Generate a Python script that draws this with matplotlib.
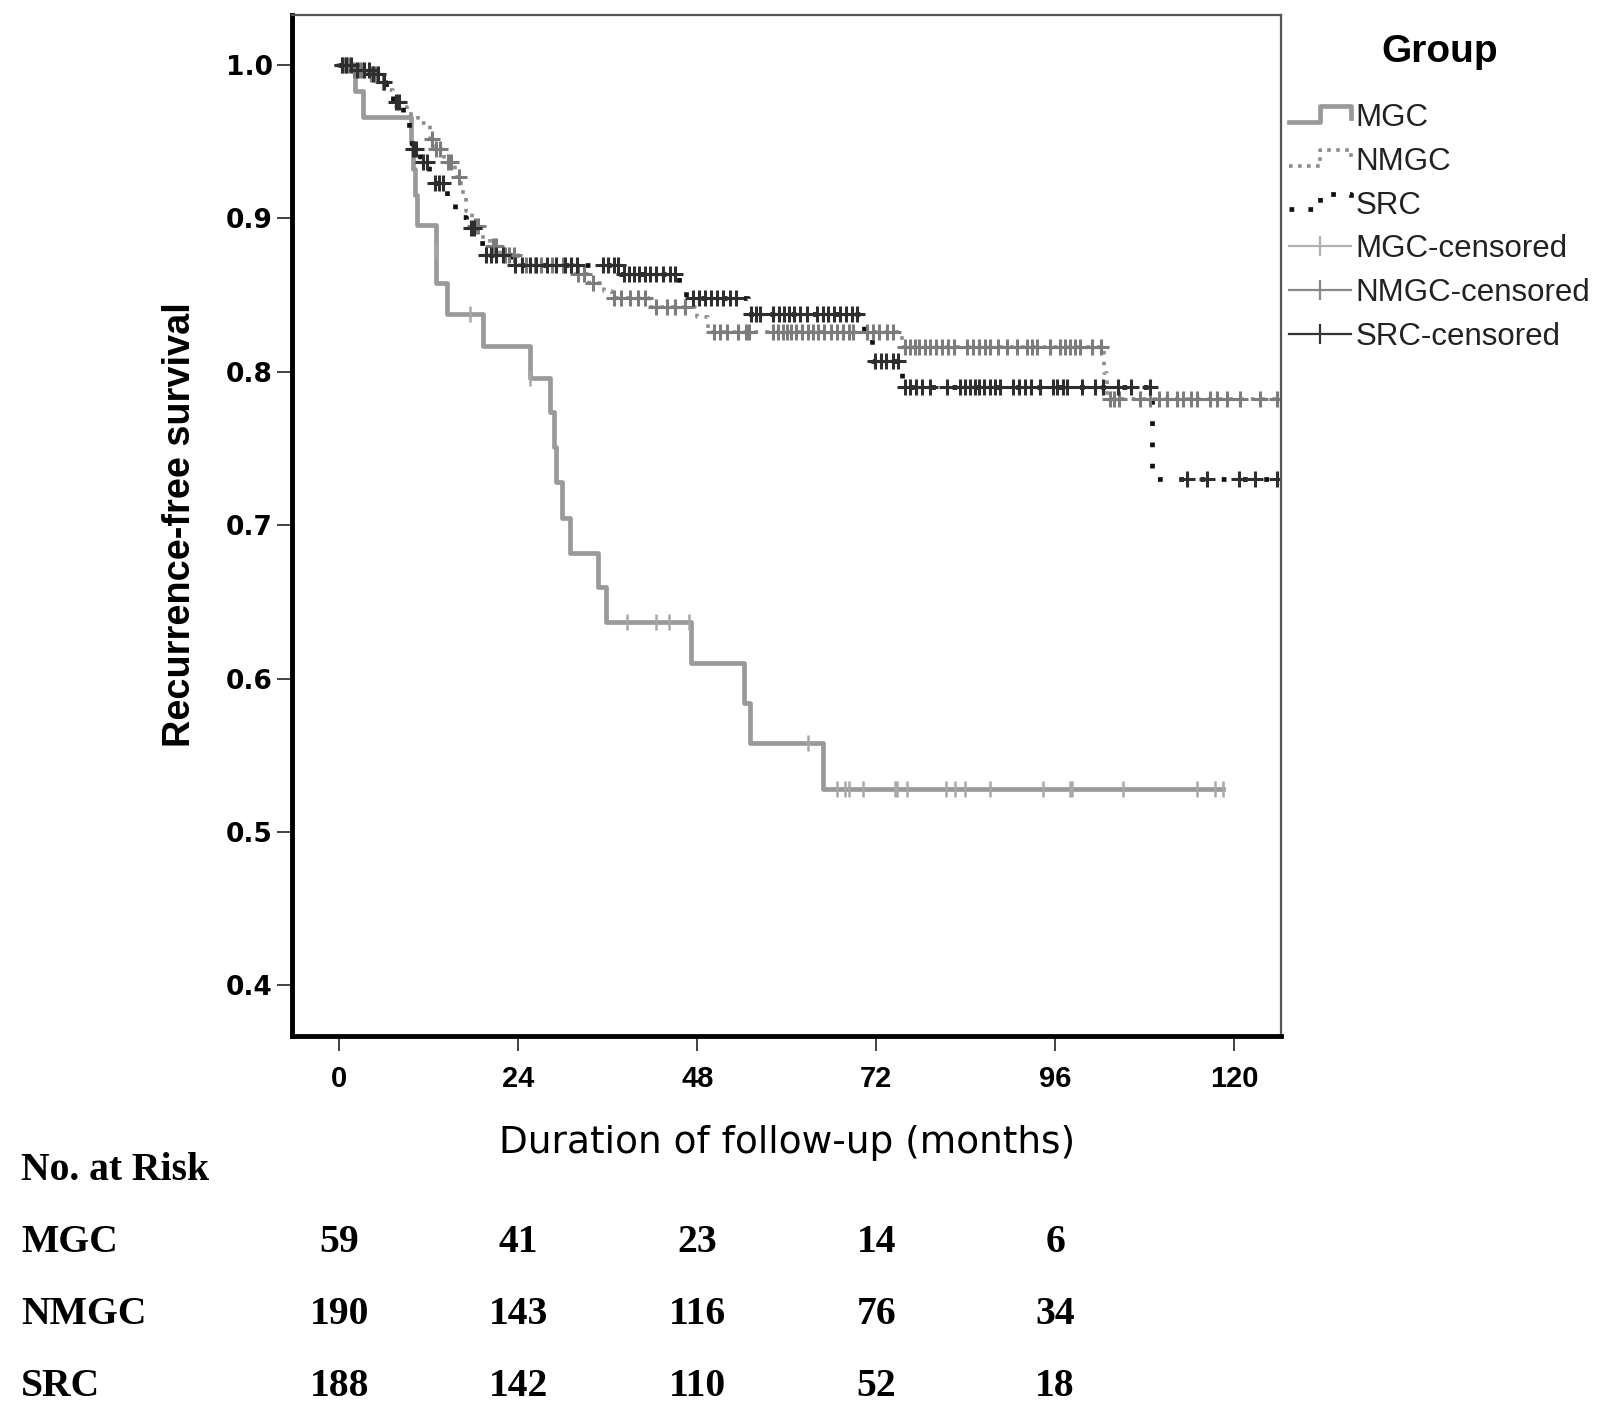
import numpy as np
import matplotlib.pyplot as plt
from matplotlib.lines import Line2D
from matplotlib.legend_handler import HandlerLine2D
import matplotlib.transforms as mtransforms

# Kaplan-Meier steps: time (months) and survival after that time
mgc_t = [0, 2.1, 3.2, 9.6, 9.8, 10.1, 10.4, 12.9, 13.0, 14.4, 19.2, 25.6, 28.2, 28.8,
         29.0, 29.8, 30.9, 34.7, 35.7, 47.1, 54.2, 55.1, 64.8, 118.5]
mgc_s = [1.0, 0.983, 0.966, 0.949, 0.932, 0.915, 0.896, 0.879, 0.858, 0.838, 0.817, 0.796,
         0.774, 0.751, 0.728, 0.705, 0.682, 0.660, 0.637, 0.610, 0.584, 0.558, 0.528, 0.528]

nmgc_t = [0, 1.5, 3.5, 5.2, 6.3, 7.2, 9.0, 10.5, 12.2, 12.6, 14.0, 15.5, 16.3, 17.0, 17.8,
          19.0, 20.2, 21.5, 24.0, 31.5, 33.5, 35.5, 36.5, 41.5, 48.0, 49.5, 75.4, 102.6,
          103.0, 126.0]
nmgc_s = [1.0, 0.997, 0.994, 0.989, 0.984, 0.973, 0.968, 0.962, 0.952, 0.945, 0.937, 0.927,
          0.917, 0.905, 0.895, 0.888, 0.882, 0.876, 0.870, 0.864, 0.858, 0.853, 0.848, 0.842,
          0.836, 0.826, 0.816, 0.799, 0.782, 0.782]

src_t = [0, 2.0, 4.0, 5.5, 6.3, 7.2, 8.5, 9.3, 9.7, 10.8, 12.0, 12.5, 14.4, 15.5, 17.0, 18.5,
         19.5, 23.0, 37.6, 45.5, 46.5, 54.8, 70.3, 71.4, 75.5, 109.0, 126.0]
src_s = [1.0, 0.997, 0.994, 0.989, 0.984, 0.976, 0.968, 0.958, 0.945, 0.937, 0.928, 0.923,
         0.911, 0.901, 0.894, 0.884, 0.876, 0.870, 0.864, 0.856, 0.848, 0.838, 0.823, 0.807,
         0.790, 0.730, 0.730]

# censoring times (months)
mgc_cens = [12.9, 17.5, 25.6, 38.6, 42.5, 44.2, 46.9, 62.9, 66.8, 67.8, 68.4, 70.2, 74.5,
            74.8, 76.1, 81.3, 82.6, 83.9, 87.3, 94.4, 98.0, 98.2, 105.1, 115.0, 117.5, 118.5]
nmgc_cens = [0.4, 0.8, 1.2, 2.0, 2.6, 3.0, 4.2, 4.6, 5.0, 5.8,
             12.4, 13.0, 13.5, 14.5, 15.0, 16.0, 18.2, 18.6, 20.6, 21.0, 22.2, 22.8, 23.4,
             25.0, 26.2, 27.0, 28.5, 30.0, 32.0, 32.8, 34.0, 36.8, 37.8, 39.0, 40.0, 41.0,
             42.5, 44.0, 45.0, 46.3,
             50.3, 51.0, 52.0, 53.5, 54.5, 55.0, 58.2, 58.8, 59.5, 60.0, 60.6, 61.2, 62.0,
             62.8, 63.5, 64.2, 65.0, 66.0, 66.8, 67.5, 68.3, 68.9, 70.8, 71.6, 72.4, 73.4, 74.3,
             75.8, 76.5, 77.2, 77.8, 78.5, 79.2, 80.0, 80.8, 81.6, 82.5, 84.2, 85.0, 85.8,
             86.6, 87.3, 88.3, 89.5, 90.9, 92.2, 92.9, 93.6, 95.3, 96.6, 97.3, 98.0, 98.7,
             99.3, 101.0, 102.2,
             103.3, 103.9, 104.6, 107.4, 108.7, 110.0, 111.0, 112.3, 113.2, 114.2, 115.0,
             116.8, 117.7, 119.1, 120.8, 123.5, 125.8]
src_cens = [0.3, 0.9, 1.6, 2.4, 3.3, 3.9, 4.5, 5.2, 6.0, 7.6, 8.0,
            9.9, 10.3, 11.2, 11.7, 12.8, 13.3, 13.9, 17.6, 18.0, 19.7, 20.3, 21.0, 22.0,
            23.6, 24.5, 25.5, 26.3, 27.8, 29.1, 30.2, 31.0, 31.8, 35.4, 36.0, 36.8, 37.3,
            38.2, 38.9, 39.5, 40.2, 41.0, 41.7, 42.5, 43.4, 44.3, 45.0,
            47.4, 48.2, 49.0, 49.8, 50.6, 51.5, 52.4, 53.2,
            55.2, 55.9, 56.4, 58.2, 58.9, 59.6, 60.3, 61.0, 61.8, 62.7, 64.0, 64.8, 65.5,
            66.3, 67.2, 68.0, 68.8, 69.4,
            71.9, 72.6, 73.3, 74.2, 74.9,
            75.9, 76.5, 77.3, 78.2, 79.2, 81.5, 83.2, 83.9, 84.6, 85.2, 85.8, 86.5, 87.2,
            88.0, 88.6, 90.4, 91.2, 92.0, 92.8, 94.0, 95.7, 96.3, 97.0, 97.6, 99.6, 101.3,
            102.4, 104.4, 106.2, 108.7,
            113.7, 116.4, 120.6, 122.8, 125.8]

risk_times = [0, 24, 48, 72, 96]
risk_groups = ["MGC", "NMGC", "SRC"]
risk_mgc = [59, 41, 23, 14, 6]
risk_nmgc = [190, 143, 116, 76, 34]
risk_src = [188, 142, 110, 52, 18]


def step_y(t_steps, s_steps, t):
    idx = np.searchsorted(t_steps, t, side="right") - 1
    return np.asarray(s_steps)[idx]


class StepHandler(HandlerLine2D):
    # legend key drawn as a small step
    def create_artists(self, legend, orig_handle, xdescent, ydescent, width, height,
                       fontsize, trans):
        x = np.array([0, 0.5, 0.5, 1.0, 1.0]) * width - xdescent
        y = np.array([0.2, 0.2, 0.9, 0.9, 0.35]) * height - ydescent
        line = Line2D(x, y)
        self.update_prop(line, orig_handle, legend)
        line.set_transform(trans)
        return [line]


W, H = 1624, 1417
fig = plt.figure(figsize=(W / 100, H / 100), dpi=100)
ax = fig.add_axes([292 / W, 1 - 1036 / H, (1281 - 292) / W, (1036 - 14.5) / H])

mgc_col, nmgc_col, src_col = "#9a9a9a", "#8c8c8c", "#111111"

ax.step(mgc_t, mgc_s, where="post", color=mgc_col, lw=3.4)
ax.step(nmgc_t, nmgc_s, where="post", color=nmgc_col, lw=2.6, linestyle=(0, (1, 2.0)))
ax.step(src_t, src_s, where="post", color=src_col, lw=3.4, linestyle=(0, (1, 3.5)))

ax.plot(mgc_cens, step_y(mgc_t, mgc_s, mgc_cens), ls="none", marker="|", ms=11,
        mew=1.8, color="#a8a8a8")
ax.plot(nmgc_cens, step_y(nmgc_t, nmgc_s, nmgc_cens), ls="none", marker="+", ms=12,
        mew=2.2, color="#7c7c7c")
ax.plot(src_cens, step_y(src_t, src_s, src_cens), ls="none", marker="+", ms=12,
        mew=2.2, color="#2e2e2e")

ax.set_xlim(-6.37, 126.3)
ax.set_ylim(0.367, 1.033)
ax.set_xticks([0, 24, 48, 72, 96, 120])
ax.set_yticks([0.4, 0.5, 0.6, 0.7, 0.8, 0.9, 1.0])
ax.set_yticklabels(["0.4", "0.5", "0.6", "0.7", "0.8", "0.9", "1.0"])

for side in ["left", "bottom"]:
    ax.spines[side].set_linewidth(3.5)
    ax.spines[side].set_color("black")
for side in ["top", "right"]:
    ax.spines[side].set_linewidth(1.6)
    ax.spines[side].set_color("#555555")

ax.tick_params(direction="out", length=11, width=1.2, color="#222222")
ax.tick_params(axis="x", pad=10)
ax.tick_params(axis="y", pad=3)
plt.setp(ax.get_xticklabels(), fontsize=21, fontweight="bold", family="Liberation Sans")
plt.setp(ax.get_yticklabels(), fontsize=19, fontweight="bold", family="DejaVu Sans")

fig.text(180 / W, 1 - 525 / H, "Recurrence-free survival", rotation=90, ha="center",
         va="center", fontsize=27.3, fontweight="bold", family="Liberation Sans")
fig.text(787 / W, 1 - 1143 / H, "Duration of follow-up (months)", ha="center",
         va="center", fontsize=27, family="DejaVu Sans")

# legend
fig.text(1440 / W, 1 - 52 / H, "Group", ha="center", va="center", fontsize=28,
         fontweight="bold", family="Liberation Sans")
h_mgc = Line2D([], [], color=mgc_col, lw=3.4)
h_nmgc = Line2D([], [], color=nmgc_col, lw=2.6, linestyle=(0, (1, 1.5)))
h_src = Line2D([], [], color=src_col, lw=3.4, linestyle=(0, (1, 3.0)))
h_mgc_c = Line2D([], [], color="#b0b0b0", lw=1.6, marker="|", ms=14, mew=1.6)
h_nmgc_c = Line2D([], [], color="#888888", lw=1.6, marker="|", ms=14, mew=1.6)
h_src_c = Line2D([], [], color="#333333", lw=1.6, marker="|", ms=14, mew=1.6)
leg = fig.legend([h_mgc, h_nmgc, h_src, h_mgc_c, h_nmgc_c, h_src_c],
                 ["MGC", "NMGC", "SRC", "MGC-censored", "NMGC-censored", "SRC-censored"],
                 loc="upper left", bbox_to_anchor=(1273 / W, 1 - 87.5 / H),
                 frameon=False, prop={"family": "Liberation Sans", "size": 22.5},
                 handlelength=2.0, handletextpad=0.15, labelspacing=0.44, borderpad=0,
                 handler_map={h_mgc: StepHandler(), h_nmgc: StepHandler(),
                              h_src: StepHandler()})
for t in leg.get_texts():
    t.set_color("#222222")

# number at risk table
tr = mtransforms.blended_transform_factory(ax.transData, fig.transFigure)
fig.text(21 / W, 1 - 1171 / H, "No. at Risk", ha="left", va="center", fontsize=28.5,
         fontweight="bold", family="Liberation Serif")
row_y = [1243, 1314, 1386]
for name, vals, yy in zip(risk_groups, [risk_mgc, risk_nmgc, risk_src], row_y):
    fig.text(21 / W, 1 - yy / H, name, ha="left", va="center", fontsize=28.5,
             fontweight="bold", family="Liberation Serif")
    for tm, v in zip(risk_times, vals):
        ax.text(tm, 1 - yy / H, str(v), transform=tr, ha="center", va="center",
                fontsize=28.5, fontweight="bold", family="Liberation Serif")

fig.savefig("out.png", dpi=100)
